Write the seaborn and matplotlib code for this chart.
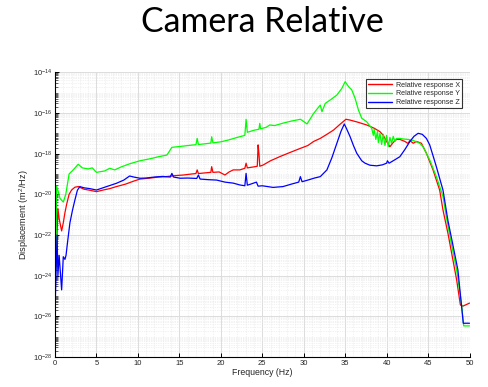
import numpy as np
import pandas as pd
import matplotlib
matplotlib.use("Agg")
import matplotlib.pyplot as plt
import matplotlib.ticker as mticker
import seaborn as sns

# Frequency (Hz) and log10 displacement PSD (m^2/Hz) for each relative response
freq_x = [0.0, 0.1, 0.2, 0.35, 0.5, 0.8, 1.0, 1.2, 1.4, 1.7, 2.0, 2.4, 2.8, 3.5, 4.2, 5.0, 5.8, 6.6,
          7.4, 8.5, 9.5, 10.25, 11.5, 12.5, 13.4, 14.5, 15.5, 16.5, 17.0, 17.15, 17.3, 18.0, 18.8,
          18.9, 19.05, 19.8, 20.5, 21.0, 21.5, 22.3, 22.9, 23.05, 23.2, 24.0, 24.4, 24.5, 24.6, 24.7,
          25.1, 26.0, 27.1, 28.3, 29.6, 30.5, 31.2, 32.0, 32.8, 33.6, 34.4, 35.1, 35.6, 36.5, 37.6,
          38.5, 39.2, 39.6, 40.0, 40.4, 40.8, 41.2, 41.6, 42.2, 42.6, 42.8, 43.2, 43.6, 44.2, 44.8,
          45.6, 46.4, 46.8, 47.4, 48.45, 48.9, 49.2, 50.0]
logpsd_x = [-21.0, -23.5, -22.5, -20.7, -21.2, -21.8, -21.4, -20.9, -20.5, -20.0, -19.79, -19.65,
            -19.62, -19.75, -19.8, -19.87, -19.79, -19.72, -19.62, -19.5, -19.35, -19.25, -19.2,
            -19.15, -19.13, -19.08, -19.05, -19.0, -18.98, -18.8, -18.98, -18.95, -18.92, -18.64,
            -18.92, -18.9, -19.05, -18.9, -18.8, -18.8, -18.72, -18.47, -18.7, -18.65, -18.62,
            -17.57, -18.0, -18.62, -18.56, -18.35, -18.15, -17.95, -17.74, -17.6, -17.4, -17.25,
            -17.05, -16.84, -16.55, -16.31, -16.35, -16.45, -16.59, -16.75, -16.92, -17.1, -17.4,
            -17.66, -17.45, -17.3, -17.3, -17.4, -17.5, -17.35, -17.49, -17.4, -17.49, -17.98,
            -18.8, -19.79, -20.77, -21.92, -24.21, -25.44, -25.5, -25.35]

freq_y = [0.0, 0.1, 0.2, 0.35, 0.6, 1.0, 1.3, 1.7, 2.2, 2.8, 3.3, 4.0, 4.5, 5.0, 6.0, 6.6, 7.2, 8.0,
          9.0, 10.25, 11.5, 12.5, 13.5, 14.1, 15.0, 16.5, 17.0, 17.15, 17.3, 18.0, 18.8, 18.9, 19.05,
          20.0, 21.0, 22.0, 22.9, 23.05, 23.2, 24.0, 24.6, 24.7, 24.8, 25.5, 25.9, 26.5, 27.5, 28.5,
          29.6, 30.1, 30.4, 31.2, 32.0, 32.2, 32.6, 33.2, 34.0, 34.6, 35.0, 35.4, 35.8, 36.2, 36.6,
          37.0, 37.6, 38.2, 38.4, 38.5, 38.7, 38.9, 39.0, 39.2, 39.4, 39.6, 39.8, 40.0, 40.2, 40.4,
          40.6, 40.8, 41.0, 41.2, 41.6, 42.0, 42.6, 43.2, 44.0, 44.4, 45.2, 46.0, 46.8, 47.2, 47.8,
          48.45, 49.05, 49.3, 50.0]
logpsd_y = [-19.7, -23.7, -19.6, -19.8, -20.2, -20.38, -20.0, -19.0, -18.8, -18.52, -18.7, -18.75,
            -18.7, -18.92, -18.85, -18.72, -18.8, -18.65, -18.5, -18.35, -18.25, -18.15, -18.07,
            -17.69, -17.65, -17.58, -17.56, -17.25, -17.55, -17.52, -17.48, -17.17, -17.47, -17.42,
            -17.32, -17.2, -17.1, -16.31, -16.95, -16.85, -16.8, -16.51, -16.78, -16.7, -16.59,
            -16.62, -16.5, -16.4, -16.31, -16.45, -16.54, -16.02, -15.61, -15.94, -15.53, -15.36,
            -15.12, -14.79, -14.46, -14.7, -14.87, -15.28, -15.85, -16.26, -16.43, -16.75, -17.1,
            -16.8, -17.3, -16.9, -17.45, -17.0, -17.55, -17.05, -17.6, -17.1, -17.65, -17.2, -17.5,
            -17.15, -17.4, -17.25, -17.25, -17.28, -17.3, -17.35, -17.49, -17.66, -18.31, -19.13,
            -20.1, -21.1, -22.4, -23.72, -25.44, -26.47, -26.47]

freq_z = [0.0, 0.1, 0.25, 0.35, 0.5, 0.8, 1.0, 1.2, 1.33, 1.5, 1.8, 2.1, 2.4, 2.7, 3.0, 3.5, 4.2, 5.0,
          6.0, 7.4, 8.3, 9.0, 9.5, 10.25, 11.0, 12.0, 13.0, 13.9, 14.1, 14.3, 15.1, 16.0, 17.1, 17.3,
          17.5, 18.5, 19.5, 20.5, 21.5, 22.3, 22.9, 23.05, 23.2, 23.6, 24.3, 24.5, 25.0, 26.3, 27.5,
          28.5, 29.4, 29.6, 29.8, 30.5, 31.3, 32.0, 32.8, 33.4, 34.0, 34.5, 34.9, 35.2, 35.6, 36.0,
          36.4, 37.0, 37.4, 38.0, 38.8, 39.5, 40.0, 40.1, 40.3, 41.0, 41.6, 42.2, 42.8, 43.3, 43.8,
          44.3, 44.8, 45.2, 45.6, 46.0, 46.8, 47.4, 48.0, 48.6, 49.25, 50.0]
logpsd_z = [-25.7, -24.3, -22.0, -24.0, -23.0, -24.7, -23.07, -23.2, -23.0, -22.4, -21.4, -20.8,
            -20.28, -19.8, -19.62, -19.68, -19.72, -19.79, -19.65, -19.46, -19.3, -19.1, -19.15,
            -19.21, -19.2, -19.15, -19.12, -19.15, -18.97, -19.15, -19.21, -19.2, -19.22, -19.05,
            -19.25, -19.28, -19.3, -19.4, -19.45, -19.54, -19.58, -18.97, -19.55, -19.5, -19.4,
            -19.6, -19.58, -19.66, -19.62, -19.5, -19.4, -19.13, -19.38, -19.3, -19.2, -19.13,
            -18.8, -18.2, -17.49, -16.9, -16.54, -16.8, -17.17, -17.6, -17.98, -18.35, -18.47,
            -18.57, -18.6, -18.55, -18.47, -18.35, -18.47, -18.3, -18.15, -17.8, -17.41, -17.15,
            -17.0, -17.05, -17.25, -17.57, -18.1, -18.64, -19.79, -21.3, -22.5, -23.72, -26.34,
            -26.34]

series_names = ["Relative response X", "Relative response Y", "Relative response Z"]
series_colors = ["#ff0000", "#00ff00", "#0000ff"]

frames = []
for name, f, lp in zip(series_names,
                       [freq_x, freq_y, freq_z],
                       [logpsd_x, logpsd_y, logpsd_z]):
    frames.append(pd.DataFrame({"Frequency": f,
                                "PSD": 10.0 ** np.asarray(lp),
                                "Response": name}))
df = pd.concat(frames, ignore_index=True)

sns.set_style("white")
plt.rcParams["font.family"] = ["Liberation Sans", "DejaVu Sans"]
plt.rcParams["mathtext.fontset"] = "custom"
plt.rcParams["mathtext.rm"] = "Liberation Sans"
plt.rcParams["mathtext.it"] = "Liberation Sans"

fig = plt.figure(figsize=(4.88, 3.87), dpi=100)
ax = fig.add_axes([55 / 488, 1 - 357 / 387, (469.5 - 55) / 488, (357 - 72.3) / 387])

sns.lineplot(data=df, x="Frequency", y="PSD", hue="Response", hue_order=series_names,
             palette=series_colors, sort=False, estimator=None, linewidth=0.9, ax=ax)

ax.set_yscale("log")
ax.set_xlim(0, 50)
ax.set_ylim(1e-28, 1e-14)

ax.set_xticks(np.arange(0, 51, 5))
ax.xaxis.set_minor_locator(mticker.MultipleLocator(1))
yt = 10.0 ** np.arange(-28, -13, 2)
ax.set_yticks(yt)
ax.set_yticklabels([r"$10^{%d}$" % e for e in np.arange(-28, -13, 2)])
ax.yaxis.set_minor_locator(mticker.LogLocator(base=10, subs=np.arange(1, 10), numticks=40))
ax.yaxis.set_minor_formatter(mticker.NullFormatter())

ax.grid(True, which="major", color="#dcdcdc", linewidth=0.7)
ax.grid(True, which="minor", color="#e6e6e6", linewidth=0.5, linestyle=(0, (1, 1.5)))
ax.set_axisbelow(True)

for side in ("top", "right"):
    ax.spines[side].set_visible(False)
for side in ("left", "bottom"):
    ax.spines[side].set_color("black")
    ax.spines[side].set_linewidth(0.8)

ax.tick_params(which="major", direction="in", length=3, width=0.7, labelsize=5.5,
               colors="black", labelcolor="#262626", left=True, bottom=True, pad=2)
ax.tick_params(which="minor", direction="in", length=1.8, width=0.5, left=True, bottom=False)

ax.set_xlabel("Frequency (Hz)", fontsize=6.3, color="#262626", labelpad=1)
ax.set_ylabel("Displacement (m$^2$/Hz)", fontsize=6.6, color="#262626", labelpad=1)

leg = ax.legend(loc="upper right", bbox_to_anchor=(0.985, 0.98), fontsize=5.1, frameon=True,
                fancybox=False, edgecolor="black", handlelength=3.4, borderpad=0.3,
                labelspacing=0.25, handletextpad=0.5, borderaxespad=0.2)
leg.get_frame().set_linewidth(0.8)
for line in leg.get_lines():
    line.set_linewidth(1.0)

fig.text(262 / 488, 1 - 32.3 / 387, "Camera Relative", ha="center", va="baseline",
         fontsize=24.4, family=["Lato", "DejaVu Sans"], color="black")

fig.savefig("out.png", dpi=100, facecolor="white")
